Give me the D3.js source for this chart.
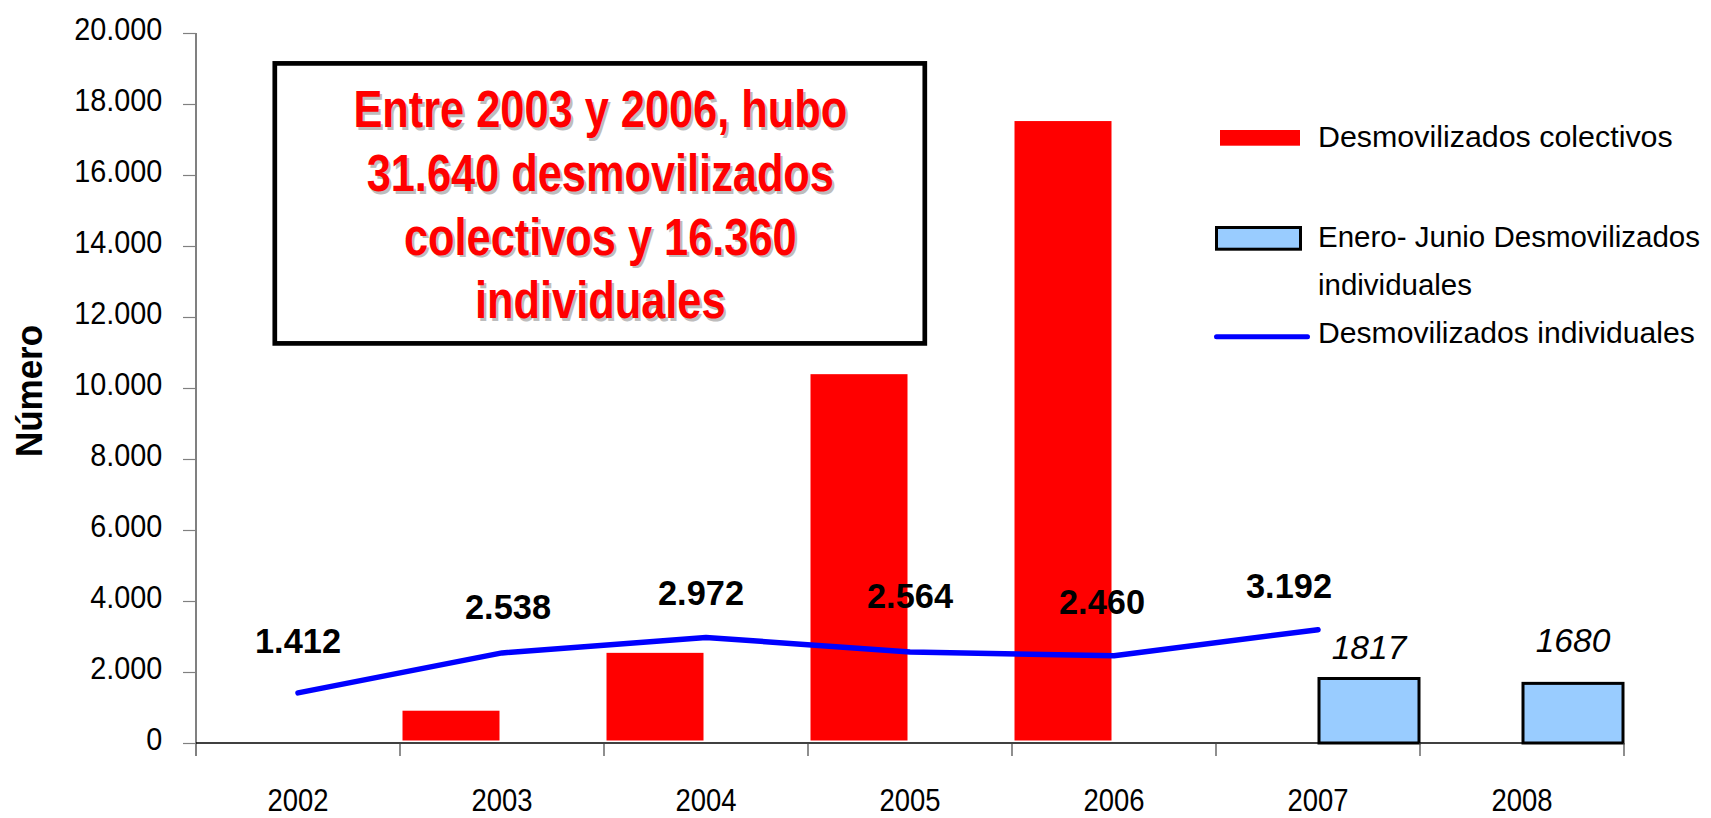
<!DOCTYPE html>
<html>
<head>
<meta charset="utf-8">
<script src="https://cdn.jsdelivr.net/npm/d3@7"></script>
<style>
  html, body { margin: 0; padding: 0; background: #ffffff; }
  svg { display: block; font-family: "Liberation Sans", Arial, sans-serif; }
</style>
</head>
<body>
<script>
// ---------------- DATA ----------------
const years = ["2002", "2003", "2004", "2005", "2006", "2007", "2008"];
const colectivos = [null, 980, 2610, 10460, 17590, null, null];       // Desmovilizados colectivos
const eneroJunio = [null, null, null, null, null, 1817, 1680];         // Enero- Junio Desmovilizados individuales
const individuales = [1412, 2538, 2972, 2564, 2460, 3192, null];      // Desmovilizados individuales
const yTicks = [0, 2000, 4000, 6000, 8000, 10000, 12000, 14000, 16000, 18000, 20000];
const legendLabels = [
  ["Desmovilizados colectivos"],
  ["Enero- Junio Desmovilizados", "individuales"],
  ["Desmovilizados individuales"]
];
const boxLines = [
  "Entre 2003 y 2006, hubo",
  "31.640 desmovilizados",
  "colectivos y 16.360",
  "individuales"
];
const axisTitle = "Número";

// ---------------- LAYOUT / STYLE ----------------
const W = 1711, H = 818;
const RED = "#FF0000", LIGHTBLUE = "#99CCFF", BLUE = "#0000FF";
// manual label nudges (dx, baseline distance above point)
const lineLabelDx = [0, 6, -5, 0, -12, -29];
const lineLabelDy = [39.6, 33.6, 32.5, 44.3, 41.4, 31.4];
const barLabelDy = [19.2, 31.1];

const svg = d3.select("body").append("svg").attr("width", W).attr("height", H);
svg.append("rect").attr("width", W).attr("height", H).attr("fill", "#fff");

const x = d3.scaleBand().domain(years).range([196, 1624]).padding(0);
const y = d3.scaleLinear().domain([0, 20000]).range([743, 33]);
const bw = x.bandwidth();
const fmt = d3.formatLocale({decimal: ",", thousands: ".", grouping: [3], currency: ["", ""]}).format(",");

// ---------- bars: colectivos (red, left half) ----------
const redData = years.map((yr, i) => ({yr, v: colectivos[i]})).filter(d => d.v != null);
svg.append("g").selectAll("rect").data(redData).join("rect")
  .attr("x", d => x(d.yr))
  .attr("y", d => y(d.v))
  .attr("width", bw / 2)
  .attr("height", d => y(0) - y(d.v))
  .attr("fill", RED)
  .attr("stroke", "#fff")
  .attr("stroke-width", 5);

// ---------- bars: enero-junio (light blue, right half) ----------
const blueData = years.map((yr, i) => ({yr, v: eneroJunio[i]})).filter(d => d.v != null);
svg.append("g").selectAll("rect").data(blueData).join("rect")
  .attr("x", d => x(d.yr) + bw / 2 + 1)
  .attr("y", d => y(d.v))
  .attr("width", bw / 2 - 2)
  .attr("height", d => y(0) - y(d.v))
  .attr("fill", LIGHTBLUE)
  .attr("stroke", "#000")
  .attr("stroke-width", 3);

// ---------- axes ----------
const yAxis = svg.append("g").attr("transform", "translate(196,0)")
  .call(d3.axisLeft(y).tickValues(yTicks).tickSize(13).tickSizeOuter(0).tickFormat(fmt));
yAxis.select(".domain").remove();
yAxis.selectAll(".tick line").attr("stroke", "#808080").attr("stroke-width", 1.2);
yAxis.selectAll(".tick text")
  .attr("x", null).attr("dy", null)
  .attr("transform", "translate(-33.7,6.7) scale(0.9,1)")
  .attr("text-anchor", "end")
  .attr("fill", "#000")
  .style("font-size", "32px")
  .style("font-family", "'Liberation Sans', Arial, sans-serif");

// y axis line
svg.append("line").attr("x1", 196).attr("x2", 196).attr("y1", y(20000)).attr("y2", 756)
  .attr("stroke", "#808080").attr("stroke-width", 2);
// baseline
svg.append("line").attr("x1", 196).attr("x2", x.range()[1]).attr("y1", y(0)).attr("y2", y(0))
  .attr("stroke", "#000").attr("stroke-width", 1.5);
// category ticks
const bounds = years.slice(1).map(d => x(d)).concat([x.range()[1]]);
svg.append("g").selectAll("line").data(bounds).join("line")
  .attr("x1", d => d).attr("x2", d => d).attr("y1", y(0)).attr("y2", 756)
  .attr("stroke", "#444").attr("stroke-width", 1.2);
// year labels
svg.append("g").selectAll("g").data(years).join("g")
  .attr("transform", d => `translate(${x(d) + bw / 2},810.5)`)
  .append("text")
  .attr("text-anchor", "middle")
  .attr("transform", "scale(0.886,1)")
  .style("font-size", "31px")
  .attr("fill", "#000")
  .text(d => d);

// axis title
svg.append("text")
  .attr("transform", "translate(41.7,391) rotate(-90)")
  .attr("text-anchor", "middle")
  .style("font-size", "37px").style("font-weight", "bold")
  .attr("textLength", 132).attr("lengthAdjust", "spacingAndGlyphs")
  .attr("fill", "#000")
  .text(axisTitle);

// ---------- line: individuales ----------
const lineData = years.map((yr, i) => ({yr, v: individuales[i], i})).filter(d => d.v != null);
svg.append("path")
  .datum(lineData)
  .attr("d", d3.line().x(d => x(d.yr) + bw / 2).y(d => y(d.v)))
  .attr("fill", "none")
  .attr("stroke", BLUE)
  .attr("stroke-width", 5.5)
  .attr("stroke-linecap", "round")
  .attr("stroke-linejoin", "round");

// line labels
svg.append("g").selectAll("g").data(lineData).join("g")
  .attr("transform", d => `translate(${x(d.yr) + bw / 2 + lineLabelDx[d.i]},${y(d.v) - lineLabelDy[d.i]})`)
  .append("text")
  .attr("text-anchor", "middle")
  .attr("transform", "scale(0.955,1)")
  .style("font-size", "36px").style("font-weight", "bold")
  .attr("fill", "#000")
  .text(d => fmt(d.v));

// bar labels (italic) for enero-junio
svg.append("g").selectAll("text").data(blueData).join("text")
  .attr("x", d => x(d.yr) + bw * 0.75)
  .attr("y", (d, i) => y(d.v) - barLabelDy[i])
  .attr("text-anchor", "middle")
  .style("font-size", "33.5px").style("font-style", "italic")
  .attr("fill", "#000")
  .text(d => String(d.v));

// ---------- annotation box ----------
svg.append("rect")
  .attr("x", 274.8).attr("y", 63.4).attr("width", 650).attr("height", 280)
  .attr("fill", "#fff").attr("stroke", "#000").attr("stroke-width", 4.7);
const boxG = svg.append("g");
boxLines.forEach((t, i) => {
  const by = 127.3 + i * 63.7;
  boxG.append("g").attr("transform", `translate(602.5,${by + 2.5})`)
    .append("text").attr("text-anchor", "middle").attr("transform", "scale(0.85,1)")
    .style("font-size", "51px").style("font-weight", "bold").attr("fill", "#BDBDBD").text(t);
  boxG.append("g").attr("transform", `translate(600.3,${by})`)
    .append("text").attr("text-anchor", "middle").attr("transform", "scale(0.85,1)")
    .style("font-size", "51px").style("font-weight", "bold").attr("fill", RED).text(t);
});

// ---------- legend ----------
const lg = svg.append("g");
lg.append("rect").attr("x", 1220).attr("y", 130).attr("width", 80).attr("height", 15.7).attr("fill", RED);
lg.append("rect").attr("x", 1216.5).attr("y", 227.5).attr("width", 84).attr("height", 21.7)
  .attr("fill", LIGHTBLUE).attr("stroke", "#000").attr("stroke-width", 3);
lg.append("line").attr("x1", 1216.5).attr("x2", 1307.5).attr("y1", 336.7).attr("y2", 336.7)
  .attr("stroke", BLUE).attr("stroke-width", 5).attr("stroke-linecap", "round");

const legendLayout = [
  [{y: 146.7, w: 354.7}],
  [{y: 246.7, w: 382}, {y: 295, w: 154}],
  [{y: 343.3, w: 376.7}]
];
legendLabels.forEach((lines, i) => {
  lines.forEach((t, j) => {
    lg.append("text")
      .attr("x", 1318).attr("y", legendLayout[i][j].y)
      .attr("textLength", legendLayout[i][j].w).attr("lengthAdjust", "spacingAndGlyphs")
      .style("font-size", "30px").attr("fill", "#000")
      .text(t);
  });
});
</script>
</body>
</html>
